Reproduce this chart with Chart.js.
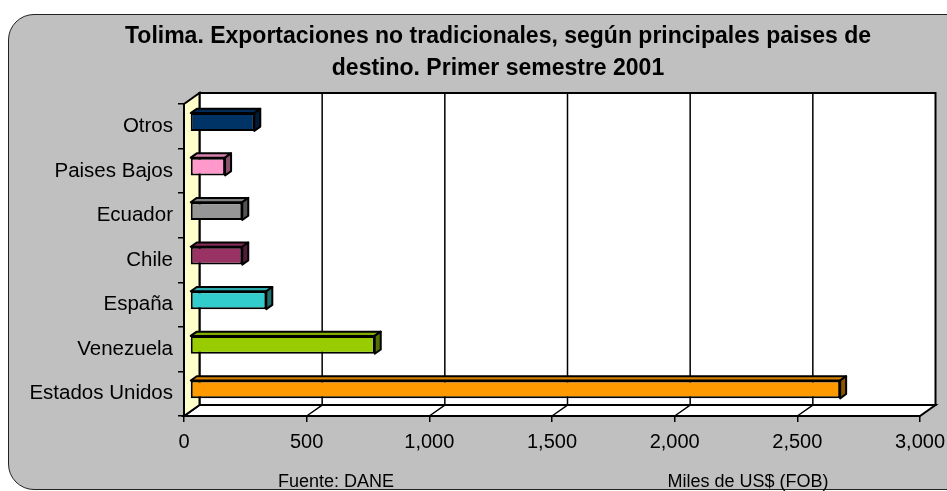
<!DOCTYPE html>
<html>
<head>
<meta charset="utf-8">
<script src="https://cdn.jsdelivr.net/npm/chart.js@4.4.1/dist/chart.umd.min.js"></script>
<style>
  html, body { margin: 0; padding: 0; overflow: hidden; background: #fff; }
  #wrap { position: relative; width: 947px; height: 491px; overflow: hidden; }
  #box { position: absolute; left: 8px; top: 14px; width: 1000px; height: 474px;
         background: #c0c0c0; border: 1.5px solid #222; border-radius: 26px; }
  #chart { position: absolute; left: 0; top: 0; }
</style>
</head>
<body>
<div id="wrap">
  <div id="box"></div>
  <canvas id="chart" width="974" height="491"></canvas>
</div>
<script>
const categories = ['Otros', 'Paises Bajos', 'Ecuador', 'Chile', 'España', 'Venezuela', 'Estados Unidos']
const exportValues = [262, 143, 213, 213, 311, 753, 2650]
const barColors = ['#003366', '#ff99cc', '#969696', '#993366', '#33cccc', '#99cc00', '#ff9900']
const xTicks = [0, 500, 1000, 1500, 2000, 2500, 3000]
const titleLines = ['Tolima. Exportaciones no tradicionales, según principales paises de', 'destino. Primer semestre 2001']
const sourceNote = 'Fuente: DANE'
const unitNote = 'Miles de US$ (FOB)'

// 3-D offsets: back wall and bar depth
const WALL_DX = 15.5, WALL_DY = -11
const BAR_DX = 6, BAR_DY = -4.3

function shade(hex, f) {
  const n = parseInt(hex.slice(1), 16)
  const r = Math.round(((n >> 16) & 255) * f)
  const g = Math.round(((n >> 8) & 255) * f)
  const b = Math.round((n & 255) * f)
  return `rgb(${r},${g},${b})`
}

function poly(ctx, pts, fill) {
  ctx.beginPath()
  ctx.moveTo(pts[0][0], pts[0][1])
  pts.slice(1).forEach(p => ctx.lineTo(p[0], p[1]))
  ctx.closePath()
  if (fill) { ctx.fillStyle = fill; ctx.fill() }
  ctx.stroke()
}

const box3d = {
  id: 'box3d',
  afterLayout(chart) {
    // the original chart box runs past the right edge, so the title centre sits further right
    if (chart.titleBlock) {
      chart.titleBlock.left = 0
      chart.titleBlock.right = 996
    }
  },
  beforeDraw(chart) {
    const { ctx, chartArea: a, scales: { x } } = chart
    ctx.save()
    ctx.strokeStyle = '#000'
    ctx.lineWidth = 2
    ctx.lineJoin = 'miter'
    // back wall
    poly(ctx, [[a.left + WALL_DX, a.top + WALL_DY], [a.right + WALL_DX, a.top + WALL_DY],
               [a.right + WALL_DX, a.bottom + WALL_DY], [a.left + WALL_DX, a.bottom + WALL_DY]], '#fff')
    // floor
    poly(ctx, [[a.left, a.bottom], [a.right, a.bottom],
               [a.right + WALL_DX, a.bottom + WALL_DY], [a.left + WALL_DX, a.bottom + WALL_DY]], '#fff')
    // left wall
    poly(ctx, [[a.left, a.top], [a.left + WALL_DX, a.top + WALL_DY],
               [a.left + WALL_DX, a.bottom + WALL_DY], [a.left, a.bottom]], '#ffffcc')
    // gridlines on back wall and floor
    ctx.lineWidth = 1.5
    xTicks.slice(1, -1).forEach(v => {
      const px = x.getPixelForValue(v)
      ctx.beginPath()
      ctx.moveTo(px + WALL_DX, a.top + WALL_DY)
      ctx.lineTo(px + WALL_DX, a.bottom + WALL_DY)
      ctx.lineTo(px, a.bottom)
      ctx.stroke()
    })
    ctx.restore()
  },
  beforeDatasetsDraw(chart) {
    const ctx = chart.ctx
    ctx.save()
    ctx.translate(BAR_DX, BAR_DY)
    ctx.strokeStyle = '#000'
    ctx.lineWidth = 2
    ctx.lineJoin = 'round'
    chart.getDatasetMeta(0).data.forEach((bar, i) => {
      const top = bar.y - bar.height / 2
      const bottom = bar.y + bar.height / 2
      const c = barColors[i]
      poly(ctx, [[bar.base, top], [bar.base + BAR_DX, top + BAR_DY],
                 [bar.x + BAR_DX, top + BAR_DY], [bar.x, top]], shade(c, 0.85))
      poly(ctx, [[bar.x, top], [bar.x + BAR_DX, top + BAR_DY],
                 [bar.x + BAR_DX, bottom + BAR_DY], [bar.x, bottom]], shade(c, 0.55))
    })
  },
  afterDatasetsDraw(chart) {
    chart.ctx.restore()
  },
  afterDraw(chart) {
    const ctx = chart.ctx
    ctx.save()
    ctx.fillStyle = '#000'
    ctx.font = '18px "Liberation Sans", Arial, sans-serif'
    ctx.textAlign = 'center'
    ctx.textBaseline = 'alphabetic'
    ctx.fillText(sourceNote, 336, 487)
    ctx.fillText(unitNote, 748, 487)
    ctx.restore()
  }
}

Chart.defaults.font.family = '"Liberation Sans", Arial, sans-serif'
Chart.defaults.color = '#000'

new Chart(document.getElementById('chart'), {
  type: 'bar',
  data: {
    labels: categories,
    datasets: [{
      data: exportValues,
      backgroundColor: barColors,
      borderColor: '#000',
      borderWidth: 2,
      borderSkipped: false,
      barPercentage: 0.4,
      categoryPercentage: 1
    }]
  },
  options: {
    indexAxis: 'y',
    responsive: false,
    animation: false,
    devicePixelRatio: 1,
    layout: { padding: { left: 0, right: 54, top: 0, bottom: 0 } },
    plugins: {
      legend: { display: false },
      tooltip: { enabled: false },
      title: {
        display: true,
        text: titleLines,
        color: '#000',
        font: { size: 23, weight: 'bold', lineHeight: 1.413 },
        padding: { top: 20, bottom: 19 }
      }
    },
    scales: {
      x: {
        min: 0,
        max: 3000,
        afterBuildTicks: scale => { scale.ticks = xTicks.map(v => ({ value: v })) },
        afterFit: scale => { scale.height = 75 },
        ticks: {
          font: { size: 20 },
          padding: 8,
          maxRotation: 0,
          autoSkip: false,
          callback: v => v.toLocaleString('en-US')
        },
        grid: { drawOnChartArea: false, tickLength: 6, color: '#000', lineWidth: 1.5 },
        border: { color: '#000', width: 2 }
      },
      y: {
        afterFit: scale => { scale.width = 184 },
        ticks: { font: { size: 20.5 }, padding: 5 },
        grid: { drawOnChartArea: false, tickLength: 6, color: '#000', lineWidth: 1.5 },
        border: { color: '#000', width: 2 }
      }
    }
  },
  plugins: [box3d]
})
</script>
</body>
</html>
